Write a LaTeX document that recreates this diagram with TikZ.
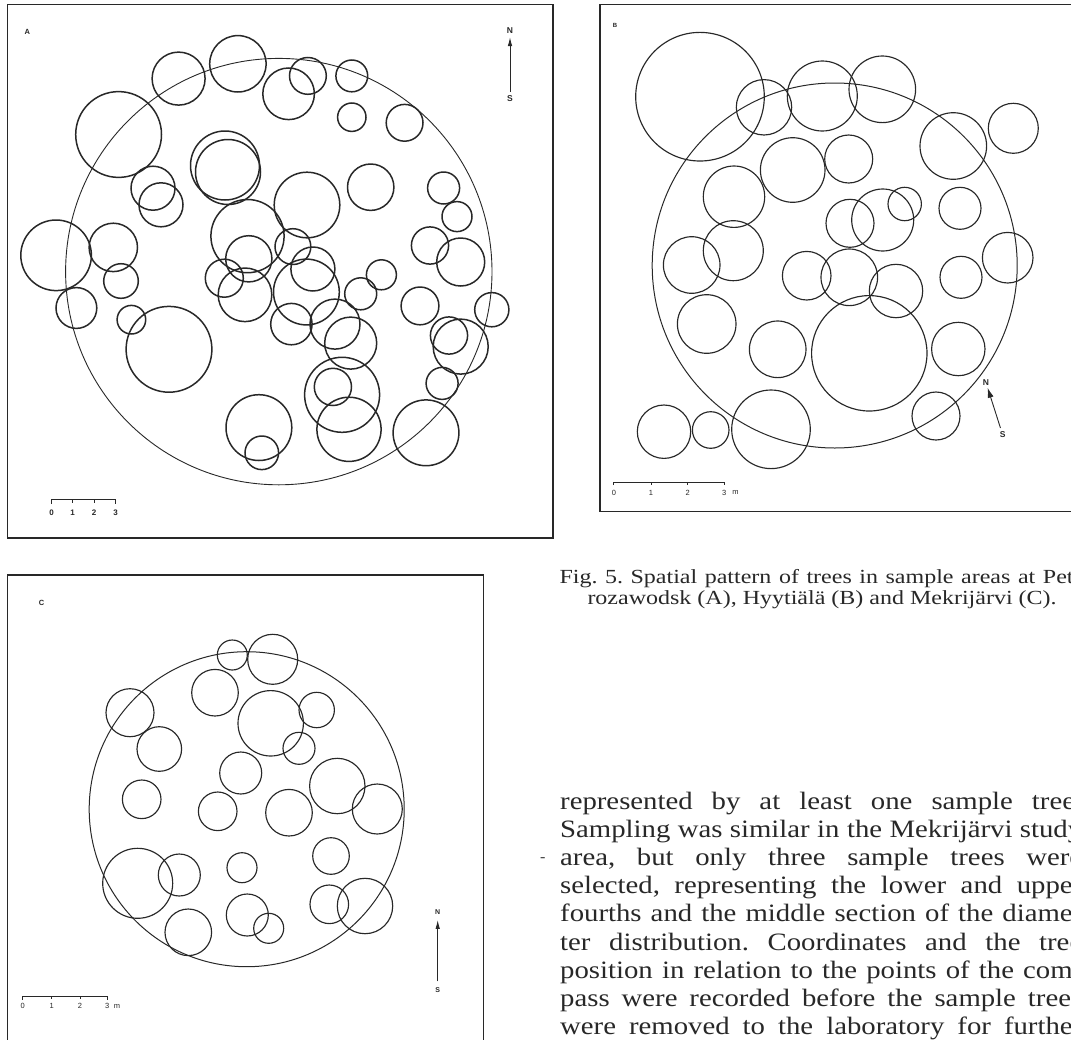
\documentclass[tikz,border=0pt]{standalone}
\usepackage{fontspec}
\setmainfont{Liberation Serif}
\newfontfamily\bodyfont[FakeStretch=1.15]{Liberation Serif}
\newfontfamily\capfont[FakeStretch=1.2]{Liberation Serif}
\newfontfamily\labfont{Liberation Sans}
\usetikzlibrary{arrows.meta}
\definecolor{ink}{RGB}{40,40,40}
\definecolor{txt}{RGB}{40,40,40}
\begin{document}
\frenchspacing
\begin{tikzpicture}[x=1pt,y=-1pt,
  treeA/.style={draw=ink, line width=1.5pt},
  treeB/.style={draw=ink, line width=1.15pt},
  plotA/.style={draw=ink, line width=0.9pt},
  plotB/.style={draw=ink, line width=1.0pt},
  framebox/.style={draw=ink, line width=1.4pt},
  panellab/.style={font=\labfont\bfseries\fontsize{7.5}{7.5}\selectfont, text=ink, inner sep=0pt},
  cmp/.style={font=\labfont\bfseries\fontsize{8.5}{8.5}\selectfont, text=ink, inner sep=0pt},
  numlab/.style={font=\labfont\bfseries\fontsize{8}{8}\selectfont, text=ink, inner sep=0pt},
  numlabB/.style={font=\labfont\fontsize{7.5}{7.5}\selectfont, text=ink, inner sep=0pt},
  compassarrow/.style={draw=ink, line width=0.9pt, -{Latex[length=9pt,width=4.5pt]}},
  scalebar/.style={draw=ink, line width=0.9pt},
  bodyline/.style={font=\bodyfont\fontsize{25}{28}\selectfont, text=txt, inner sep=0pt, anchor=base west},
  capline/.style={font=\capfont\fontsize{20}{22}\selectfont, text=txt, inner sep=0pt, anchor=base west}
]
\useasboundingbox (0,0) rectangle (1071,1039);
\clip (0,0) rectangle (1071,1039);
\fill[white] (0,0) rectangle (1071,1039);

% ================= Panel A =================
\draw[framebox] (7.3,4.7) rectangle (553,538);
\node[panellab] (labA) at (27.3,31.7) {A};
\draw[plotA] (278.8,271.6) circle[radius=213.2];
\foreach \x/\y/\r in {
 118.6/134.5/42.9, 178.6/78.6/26.5, 237.9/63.8/28.2, 288.6/93.8/25.8,
 307.9/75.9/18.4, 351.8/75.9/15.9, 351.8/117.2/14.2, 404.6/122.8/18.4,
 225/165.5/34.5, 228/172/32.5, 153/188.2/22, 161/204.8/22,
 307/205/32.8, 370.7/187.2/23.2, 443.6/188/16, 457/216.6/15,
 56.1/255.3/35.3, 113.3/247.4/24.2, 121/281/17.3, 76.4/308/20.4,
 131.4/319.7/14.3, 169/349.3/42.9, 247.5/236.1/36.6, 248.8/258.8/23.1,
 224.3/278.2/19, 245/294.8/26.8, 292.9/246.6/17.9, 312.9/269/22,
 306.4/292/32.9, 360.7/293.8/16, 381.4/274.8/15, 291.4/324.1/20.7,
 335/324.1/25, 350.7/343.1/26, 430/245.5/18.6, 460.7/262/24,
 420/305.9/18.9, 491.8/309.7/17.1, 449/335.5/18.6, 460.7/346.6/27.5,
 442.1/383.4/16, 342.1/394.8/37.5, 332.9/386.9/18.6, 349/429.3/32.1,
 426/432.8/32.9, 258.9/427.6/32.9, 261.8/452.8/16.8}
 \draw[treeA] (\x,\y) circle[radius=\r];
% compass A
\node[cmp] (nA) at (510,30.5) {N};
\node[cmp] (sA) at (510,98.5) {S};
\draw[compassarrow, shorten >=3.5pt, shorten <=3.5pt] (sA) -- (nA);
% scale A
\draw[scalebar] (51.7,503.8) -- (51.7,499.3) -- (115.7,499.3) -- (115.7,503.8);
\draw[scalebar] (72.7,499.3) -- (72.7,503.3) (94,499.3) -- (94,503.3);
\node[numlab] (a0) at (51.7,513) {0};
\node[numlab] (a1) at (72.7,513) {1};
\node[numlab] (a2) at (94,513) {2};
\node[numlab] (a3) at (115.7,513) {3};

% ================= Panel B =================
\draw[framebox] (600,4.7) rectangle (1080,511.7);
\node[panellab, font=\labfont\bfseries\fontsize{6}{6}\selectfont] (labB) at (615,25) {B};
\draw[plotB] (834.7,265.5) circle[radius=182.5];
\foreach \x/\y/\r in {
 700/96.7/64.3, 764/107.3/27.7, 822.3/96/35, 882.3/89.3/33.3,
 953.3/146/33.3, 1013.3/128.3/25, 734/196.7/30.7, 792.7/170/32.3,
 848.7/159/24, 882.7/220/31, 850/223.3/24, 904.7/204/16.7,
 960/208.3/21, 691.7/265/28.3, 733.3/250.7/30, 806.7/275.7/24.3,
 849.3/277.3/28.3, 896/291/26.7, 961/277.3/21, 1007.7/257.7/25.3,
 706.7/324/29.3, 777.7/349.3/28.3, 869.3/353.3/57.7, 958.3/349/26.7,
 936/416/24, 664/431.7/26.7, 710.7/430/18.3, 771/429.3/39.3}
 \draw[treeB] (\x,\y) circle[radius=\r];
% compass B
\node[cmp] (nB) at (986,382.7) {N};
\node[cmp] (sB) at (1002.7,435) {S};
\draw[compassarrow, -{Latex[length=10pt,width=6pt]}, shorten >=2pt, shorten <=4pt] (sB) -- (nB);
% scale B
\draw[scalebar, line width=0.8pt] (613.3,485) -- (613.3,482.3) -- (724.3,482.3) -- (724.3,485);
\draw[scalebar, line width=0.8pt] (651,482.3) -- (651,484.5) (687.7,482.3) -- (687.7,484.5);
\node[numlabB] (b0) at (614,492.5) {0};
\node[numlabB] (b1) at (651,492.5) {1};
\node[numlabB] (b2) at (687.7,492.5) {2};
\node[numlabB] (b3) at (724.3,492.5) {3};
\node[numlabB] (bm) at (735.5,492.5) {m};

% ================= Panel C =================
\draw[framebox] (7.3,575) rectangle (483.3,1050);
\node[panellab] (labC) at (41.7,602.7) {C};
\draw[plotB] (246.7,809.2) circle[radius=157.5];
\foreach \x/\y/\r in {
 232.3/655/15, 272.7/659.3/25, 215/692.7/23.3, 130/712.7/24,
 270.7/723.3/32.7, 316.7/710/17.7, 299/748.3/16, 159.3/749/22.3,
 240.7/773/21, 337.3/786/27.7, 377.3/809/25, 141.7/799.3/19.3,
 217.7/811.3/19.3, 289/812.7/23.3, 331/856/18.3, 137.7/883.3/35,
 179.3/875/21, 242/867.7/15, 247.3/915/21, 268.7/928.3/15,
 329.3/904.3/19.3, 365/906/27.7, 188.3/932.3/23.3}
 \draw[treeB] (\x,\y) circle[radius=\r];
% compass C
\node[cmp, font=\labfont\bfseries\fontsize{7}{7}\selectfont] (nC) at (437.7,912.3) {N};
\node[cmp, font=\labfont\bfseries\fontsize{7}{7}\selectfont] (sC) at (437.7,990) {S};
\draw[compassarrow, shorten >=5pt, shorten <=6pt] (sC) -- (nC);
% scale C
\draw[scalebar, line width=0.8pt] (22.7,999.5) -- (22.7,996.7) -- (107.3,996.7) -- (107.3,999.5);
\draw[scalebar, line width=0.8pt] (51.7,996.7) -- (51.7,999) (80,996.7) -- (80,999);
\node[numlabB] (c0) at (22.7,1006) {0};
\node[numlabB] (c1) at (51.7,1006) {1};
\node[numlabB] (c2) at (80,1006) {2};
\node[numlabB] (c3) at (107.3,1006) {3};
\node[numlabB] (cm) at (117,1006) {m};

% ================= Caption =================
\node[capline] (cap1) at (559.3,583.5) {\makebox[522pt][s]{Fig. 5. Spatial pattern of trees in sample areas at Pet-}};
\node[capline] (cap2) at (587.3,604.5) {rozawodsk (A), Hyytiälä (B) and Mekrijärvi (C).};

% ================= Body text =================
\node[bodyline] (l1) at (560,809.3) {\makebox[522pt][s]{represented by at least one sample tree.}};
\node[bodyline] (l2) at (560,837.3) {\makebox[522pt][s]{Sampling was similar in the Mekrijärvi study}};
\node[bodyline] (l3) at (560,865.5) {\makebox[522pt][s]{area, but only three sample trees were}};
\node[bodyline] (l4) at (560,893.7) {\makebox[522pt][s]{selected, representing the lower and upper}};
\node[bodyline] (l5) at (560,921.9) {\makebox[522pt][s]{fourths and the middle section of the diame-}};
\node[bodyline] (l6) at (560,950.1) {\makebox[522pt][s]{ter distribution. Coordinates and the tree}};
\node[bodyline] (l7) at (560,978.3) {\makebox[522pt][s]{position in relation to the points of the com-}};
\node[bodyline] (l8) at (560,1006.5) {\makebox[522pt][s]{pass were recorded before the sample trees}};
\node[bodyline] (l9) at (560,1034.8) {\makebox[522pt][s]{were removed to the laboratory for further}};
\node[font=\bodyfont\fontsize{14}{14}\selectfont, text=txt, inner sep=0pt] (dash) at (542.7,859.5) {-};
\end{tikzpicture}
\end{document}
